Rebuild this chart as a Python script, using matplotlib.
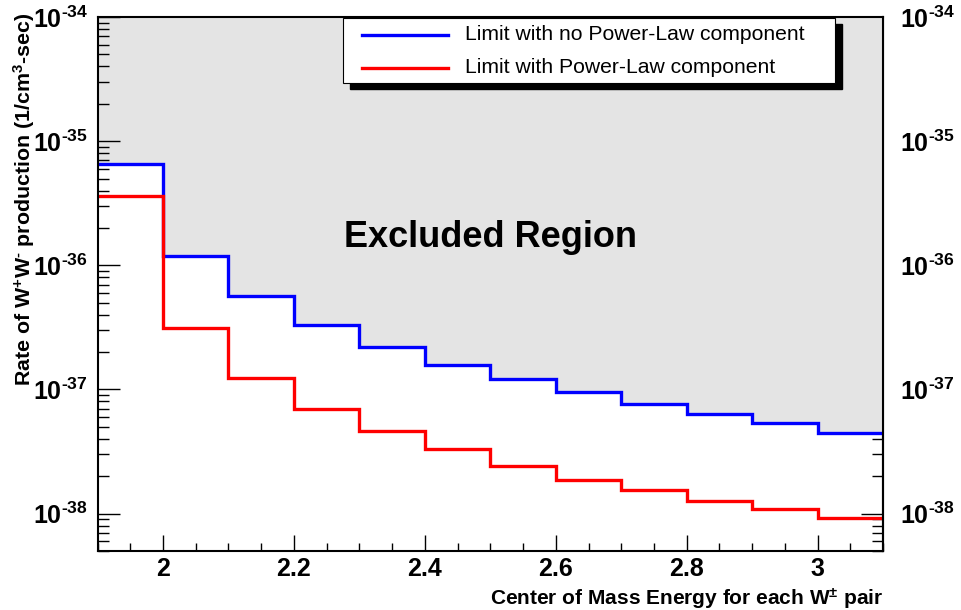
import numpy as np
import matplotlib
matplotlib.use('Agg')
import matplotlib.pyplot as plt
from matplotlib.ticker import FixedLocator, FuncFormatter, LogLocator, NullFormatter, MultipleLocator
from matplotlib.patches import Rectangle
from matplotlib.lines import Line2D

plt.rcParams['font.family'] = 'Liberation Sans'
plt.rcParams['mathtext.fontset'] = 'custom'
plt.rcParams['mathtext.rm'] = 'Liberation Sans'
plt.rcParams['mathtext.it'] = 'Liberation Sans:italic'
plt.rcParams['mathtext.bf'] = 'Liberation Sans:bold'

HYPH = '\u2010'  # short hyphen, like ROOT's exponent sign

# bin edges (centre of mass energy)
bin_edges = [1.9, 2.0, 2.1, 2.2, 2.3, 2.4, 2.5, 2.6, 2.7, 2.8, 2.9, 3.0, 3.1]

# limits (1/cm^3-sec)
limit_no_pl = [6.5e-36, 1.19e-36, 5.7e-37, 3.3e-37, 2.19e-37, 1.56e-37,
               1.21e-37, 9.5e-38, 7.6e-38, 6.4e-38, 5.4e-38, 4.5e-38]
limit_pl = [3.6e-36, 3.1e-37, 1.24e-37, 7.0e-38, 4.6e-38, 3.3e-38,
            2.44e-38, 1.86e-38, 1.56e-38, 1.27e-38, 1.09e-38, 9.3e-39]

labels = ['Limit with no Power-Law component', 'Limit with Power-Law component']
y_major = [1e-38, 1e-37, 1e-36, 1e-35, 1e-34]
x_major = [2.0, 2.2, 2.4, 2.6, 2.8, 3.0]

ymin, ymax = 5e-39, 1e-34
gris = '#e4e4e4'


def fmt_pow(v, p):
    e = int(round(np.log10(v)))
    sign = HYPH if e < 0 else ''
    return '$\\mathbf{10^{' + sign + str(abs(e)) + '}}$'


def style_y(axis):
    axis.set_major_locator(FixedLocator(y_major))
    axis.set_minor_locator(LogLocator(base=10, subs=np.arange(2, 10), numticks=20))
    axis.set_minor_formatter(NullFormatter())
    axis.set_major_formatter(FuncFormatter(fmt_pow))


fig = plt.figure(figsize=(9.61, 6.10), dpi=100)
ax = fig.add_axes([0.1015, 0.0967, 0.8175, 0.8755])
ax.set_yscale('log')
ax.set_xlim(1.9, 3.1)
ax.set_ylim(ymin, ymax)

# excluded region (above the no-power-law limit)
ax.stairs(limit_no_pl, bin_edges, baseline=ymax, fill=True, color=gris, zorder=1)
ax.stairs(limit_no_pl, bin_edges, baseline=None, color='#0000ff', lw=2.4, zorder=3)
ax.stairs(limit_pl, bin_edges, baseline=None, color='#ff0000', lw=2.4, zorder=3)

ax.text(0.5, 0.569, 'Excluded Region', transform=ax.transAxes, ha='center', va='baseline',
        fontsize=26, fontweight='bold', zorder=4)

# axes
for s in ax.spines.values():
    s.set_linewidth(1.5)
    s.set_zorder(5)

ax.xaxis.set_major_locator(FixedLocator(x_major))
ax.xaxis.set_minor_locator(MultipleLocator(0.05))
ax.xaxis.set_major_formatter(FuncFormatter(lambda v, p: '%g' % v))
style_y(ax.yaxis)

ax.tick_params(axis='x', which='major', direction='in', length=11.5, width=1, labelsize=18, pad=4)
ax.tick_params(axis='x', which='minor', direction='in', length=6, width=1)
ax.tick_params(axis='y', which='major', direction='in', length=16, width=1, labelsize=18, pad=7)
ax.tick_params(axis='y', which='minor', direction='in', length=8, width=1)
for lab in ax.get_xticklabels():
    lab.set_fontweight('bold')

# right-hand axis, same scale
sec = ax.secondary_yaxis('right')
style_y(sec.yaxis)
sec.tick_params(axis='y', which='major', direction='in', length=16, width=1, labelsize=18, pad=12)
sec.tick_params(axis='y', which='minor', direction='in', length=8, width=1)
sec.spines['right'].set_linewidth(1.5)

ax.set_xlabel('Center of Mass Energy for each W$^{\\mathbf{\\pm}}$ pair', fontsize=15,
              fontweight='bold', loc='right', labelpad=4)
ax.set_ylabel('Rate of W$^{\\mathbf{+}}$W$^{\\mathbf{' + HYPH + '}}$ production (1/cm$^{\\mathbf{3}}$-sec)',
              fontsize=15.4, fontweight='bold', loc='top')
ax.yaxis.set_label_coords(-0.077, 1.007)

# legend box with ROOT-like shadow
lx0, ly0, lw, lh = 0.357, 0.864, 0.512, 0.107
fig.add_artist(Rectangle((lx0 + 0.007, ly0 - 0.01), lw, lh, transform=fig.transFigure,
                         facecolor='black', edgecolor='black', zorder=6))
fig.add_artist(Rectangle((lx0, ly0), lw, lh, transform=fig.transFigure,
                         facecolor='white', edgecolor='black', lw=0.8, zorder=7))
for i, (lab, col) in enumerate(zip(labels, ['#0000ff', '#ff0000'])):
    yy = 0.943 - i * 0.054
    fig.add_artist(Line2D([0.377, 0.466], [yy, yy], transform=fig.transFigure,
                          color=col, lw=2.4, zorder=8))
    fig.text(0.484, yy, lab, fontsize=15.2, va='center', ha='left', zorder=8)

fig.savefig('out.png', dpi=100)
